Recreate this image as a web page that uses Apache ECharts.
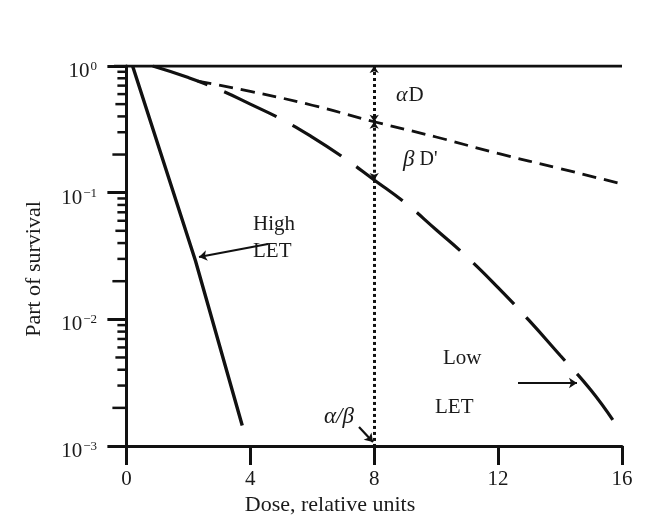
<!DOCTYPE html>
<html>
<head>
<meta charset="utf-8">
<script src="https://cdn.jsdelivr.net/npm/echarts@6/dist/echarts.min.js"></script>
<style>html,body{margin:0;padding:0;background:#fff;}#c{width:660px;height:527px;}</style>
</head>
<body>
<div id="c"></div>
<script>
// ---- data ----
const xTicks = [0, 4, 8, 12, 16];
const yMinorTicks = [0.9,0.8,0.7,0.6,0.5,0.4,0.3,0.2,
                     0.09,0.08,0.07,0.06,0.05,0.04,0.03,0.02,
                     0.009,0.008,0.007,0.006,0.005,0.004,0.003,0.002];
const unitLine = [[-0.4, 1], [16, 1]];
const highLET = [[0.2, 1.0], [2.23, 0.029], [3.74, 0.00145]];
const lowLET = [[0.85, 1.0], [2, 0.81], [3, 0.65], [4, 0.50], [5, 0.38], [6, 0.275], [7, 0.19],
                [8, 0.126], [9, 0.083], [10, 0.051], [11, 0.031], [12, 0.0178], [13, 0.0098],
                [14, 0.0052], [15, 0.00275], [15.8, 0.00148]];
const alphaD = [[2.3, 0.76], [4, 0.63], [6, 0.49], [8, 0.363], [10, 0.275], [12, 0.204], [14, 0.155], [16, 0.117]];
const alphaBetaDose = 8;
const markSurv = [1, 0.363, 0.126, 0.001];

const INK = '#111';
const TXT = '#1a1a1a';
const SERIF = '"Liberation Serif","DejaVu Serif",serif';
const supMap = {'0':'0','-1':'−1','-2':'−2','-3':'−3'};

const chart = echarts.init(document.getElementById('c'), null, {renderer: 'canvas'});
chart.setOption({
  animation: false,
  backgroundColor: '#fff',
  grid: {left: 114, right: 38, top: 66, bottom: 81, containLabel: false},
  xAxis: {
    type: 'value', min: -0.4, max: 16,
    axisLine: {show: true, onZero: false, lineStyle: {color: INK, width: 3}},
    axisTick: {show: true, customValues: xTicks, length: 19, inside: false, lineStyle: {color: INK, width: 3}},
    axisLabel: {show: true, customValues: xTicks, margin: 23, color: TXT, fontFamily: SERIF, fontSize: 21},
    splitLine: {show: false}
  },
  yAxis: {
    type: 'log', logBase: 10, min: 0.001, max: 1,
    axisLine: {show: true, onZero: true, lineStyle: {color: INK, width: 3}},
    axisTick: {show: true, inside: false, length: 19, lineStyle: {color: INK, width: 3}},
    axisLabel: {
      margin: 17, color: TXT, fontFamily: SERIF, fontSize: 20,
      padding: [10, 0, 0, 0],
      formatter: function (v) {
        const e = String(Math.round(Math.log10(v)));
        return '{b|10}{s|' + supMap[e] + '}';
      },
      rich: {
        b: {fontFamily: SERIF, fontSize: 21, color: TXT, verticalAlign: 'bottom', padding: [0, 1, 0, 0]},
        s: {fontFamily: SERIF, fontSize: 13, color: TXT, verticalAlign: 'top', padding: [0, 0, 9, 0]}
      }
    },
    splitLine: {show: false}
  },
  series: [
    {
      type: 'custom', name: 'minorTicks', silent: true,
      data: yMinorTicks.map(v => [0, v]),
      renderItem: function (params, api) {
        const v = api.value(1);
        const p = api.coord([0, v]);
        const m = Math.round(v / Math.pow(10, Math.floor(Math.log10(v) + 1e-9)));
        const len = (m === 2) ? 14 : (m === 5 ? 11 : 9);
        return {type: 'line', shape: {x1: p[0] - len, y1: p[1], x2: p[0], y2: p[1]},
                style: {stroke: INK, lineWidth: 2.5}};
      },
      z: 3
    },
    {
      type: 'line', name: 'unit', data: unitLine, symbol: 'none',
      lineStyle: {color: INK, width: 3}, z: 4
    },
    {
      type: 'line', name: 'High LET', data: highLET, symbol: 'none', smooth: false,
      lineStyle: {color: INK, width: 3.4, join: 'round'}
    },
    {
      type: 'line', name: 'Low LET', data: lowLET, symbol: 'none', smooth: true,
      lineStyle: {color: INK, width: 3.2, type: [58, 18]}
    },
    {
      type: 'line', name: 'alphaD', data: alphaD, symbol: 'none', smooth: true,
      lineStyle: {color: INK, width: 2.8, type: [14, 8]},
      markLine: {
        silent: true, symbolSize: 7, precision: 6,
        label: {show: false},
        lineStyle: {color: INK, width: 3, type: [3, 3]},
        data: [
          [{coord: [alphaBetaDose, markSurv[0]], symbol: 'arrow'}, {coord: [alphaBetaDose, markSurv[1]], symbol: 'arrow'}],
          [{coord: [alphaBetaDose, markSurv[1]], symbol: 'arrow'}, {coord: [alphaBetaDose, markSurv[2]], symbol: 'arrow'}],
          [{coord: [alphaBetaDose, markSurv[2]], symbol: 'none'}, {coord: [alphaBetaDose, markSurv[3]], symbol: 'none'}]
        ]
      }
    },
    {
      type: 'line', name: 'arrows', data: [], symbol: 'none',
      markLine: {
        silent: true, symbol: ['none', 'arrow'], symbolSize: 8,
        label: {show: false},
        lineStyle: {color: INK, width: 2.2, type: 'solid'},
        data: [
          [{x: 268, y: 244}, {x: 199, y: 257}],
          [{x: 518, y: 383}, {x: 577, y: 383}],
          [{x: 359, y: 427}, {x: 373, y: 442}]
        ]
      }
    }
  ],
  graphic: [
    {type: 'text', x: 330, y: 505, style: {text: 'Dose, relative units', fill: TXT, font: '22px ' + SERIF, align: 'center', verticalAlign: 'middle'}},
    {type: 'text', x: 34, y: 269, rotation: Math.PI / 2, style: {text: 'Part of survival', fill: TXT, font: '22px ' + SERIF, align: 'center', verticalAlign: 'middle'}},
    {type: 'text', left: 396, top: 84, style: {text: '{a|α}{b|D}', rich: {
      a: {fontFamily: SERIF, fontStyle: 'italic', fontSize: 22, fill: TXT},
      b: {fontFamily: SERIF, fontSize: 21, fill: TXT, padding: [0, 0, 0, 1]}}}},
    {type: 'text', left: 403, top: 148, style: {text: '{a|β}{b| D\'}', rich: {
      a: {fontFamily: SERIF, fontStyle: 'italic', fontSize: 23, fill: TXT},
      b: {fontFamily: SERIF, fontSize: 20, fill: TXT}}}},
    {type: 'text', left: 253, top: 211, style: {text: 'High\nLET', fill: TXT, font: '21px ' + SERIF, lineHeight: 27}},
    {type: 'text', left: 443, top: 348, style: {text: 'Low', fill: TXT, font: '21px ' + SERIF}},
    {type: 'text', left: 435, top: 397, style: {text: 'LET', fill: TXT, font: '21px ' + SERIF}},
    {type: 'text', left: 324, top: 405, style: {text: 'α/β', fill: TXT, font: 'italic 23px ' + SERIF}}
  ]
});
</script>
</body>
</html>
